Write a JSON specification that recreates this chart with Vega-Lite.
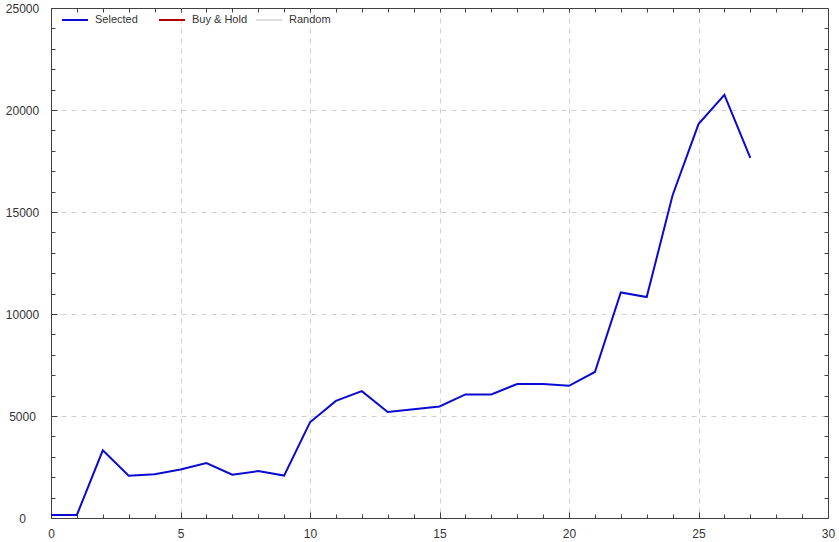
{
  "$schema": "https://vega.github.io/schema/vega-lite/v6.json",
  "autosize": "none",
  "width": 777,
  "height": 510,
  "padding": {"left": 51, "top": 8, "right": 11, "bottom": 24},
  "background": "white",
  "config": {
    "view": {"stroke": "#404040", "strokeWidth": 1},
    "font": "Liberation Sans",
    "axis": {
      "labelFont": "Liberation Sans",
      "labelFontSize": 12,
      "labelColor": "#333333",
      "domainColor": "#404040",
      "tickColor": "#404040",
      "title": null,
      "gridColor": "#d0d0d0",
      "gridDash": [5, 5],
      "gridWidth": 1
    }
  },
  "data": {
    "values": [
      {"t": 0, "v": 150, "series": "Selected"},
      {"t": 1, "v": 150, "series": "Selected"},
      {"t": 2, "v": 3320, "series": "Selected"},
      {"t": 3, "v": 2070, "series": "Selected"},
      {"t": 4, "v": 2150, "series": "Selected"},
      {"t": 5, "v": 2380, "series": "Selected"},
      {"t": 6, "v": 2690, "series": "Selected"},
      {"t": 7, "v": 2120, "series": "Selected"},
      {"t": 8, "v": 2300, "series": "Selected"},
      {"t": 9, "v": 2080, "series": "Selected"},
      {"t": 10, "v": 4690, "series": "Selected"},
      {"t": 11, "v": 5740, "series": "Selected"},
      {"t": 12, "v": 6220, "series": "Selected"},
      {"t": 13, "v": 5200, "series": "Selected"},
      {"t": 14, "v": 5330, "series": "Selected"},
      {"t": 15, "v": 5470, "series": "Selected"},
      {"t": 16, "v": 6060, "series": "Selected"},
      {"t": 17, "v": 6060, "series": "Selected"},
      {"t": 18, "v": 6570, "series": "Selected"},
      {"t": 19, "v": 6570, "series": "Selected"},
      {"t": 20, "v": 6480, "series": "Selected"},
      {"t": 21, "v": 7160, "series": "Selected"},
      {"t": 22, "v": 11055, "series": "Selected"},
      {"t": 23, "v": 10830, "series": "Selected"},
      {"t": 24, "v": 15820, "series": "Selected"},
      {"t": 25, "v": 19310, "series": "Selected"},
      {"t": 26, "v": 20740, "series": "Selected"},
      {"t": 27, "v": 17650, "series": "Selected"}
    ]
  },
  "resolve": {"axis": {"x": "independent", "y": "independent"}},
  "layer": [
    {
      "mark": {"type": "line", "strokeOpacity": 0},
      "encoding": {
        "x": {"field": "t", "type": "quantitative", "scale": {"domain": [0, 30], "nice": false},
          "axis": {"orient": "bottom", "values": [5, 10, 15, 20, 25], "labels": false, "ticks": false, "grid": true, "domain": false}},
        "y": {"field": "v", "type": "quantitative", "scale": {"domain": [0, 25000], "nice": false},
          "axis": {"orient": "left", "values": [5000, 10000, 15000, 20000], "labels": false, "ticks": false, "grid": true, "domain": false}}
      }
    },
    {
      "mark": {"type": "line", "strokeOpacity": 0},
      "encoding": {
        "x": {"field": "t", "type": "quantitative", "scale": {"domain": [0, 30], "nice": false},
          "axis": {"orient": "bottom", "values": [1,2,3,4,6,7,8,9,11,12,13,14,16,17,18,19,21,22,23,24,26,27,28,29], "labels": false, "grid": false, "domain": false, "tickSize": -4}},
        "y": {"field": "v", "type": "quantitative", "scale": {"domain": [0, 25000], "nice": false},
          "axis": {"orient": "left", "values": [1000,2000,3000,4000,6000,7000,8000,9000,11000,12000,13000,14000,16000,17000,18000,19000,21000,22000,23000,24000], "labels": false, "grid": false, "domain": false, "tickSize": -4}}
      }
    },
    {
      "mark": {"type": "line", "strokeOpacity": 0},
      "encoding": {
        "x": {"field": "t", "type": "quantitative", "scale": {"domain": [0, 30], "nice": false},
          "axis": {"orient": "top", "values": [1,2,3,4,5,6,7,8,9,10,11,12,13,14,15,16,17,18,19,20,21,22,23,24,25,26,27,28,29], "labels": false, "grid": false, "domain": false, "tickSize": -4}},
        "y": {"field": "v", "type": "quantitative", "scale": {"domain": [0, 25000], "nice": false},
          "axis": {"orient": "right", "values": [1000,2000,3000,4000,5000,6000,7000,8000,9000,10000,11000,12000,13000,14000,15000,16000,17000,18000,19000,20000,21000,22000,23000,24000], "labels": false, "grid": false, "domain": false, "tickSize": -4}}
      }
    },
    {
      "mark": {"type": "line", "strokeWidth": 2},
      "encoding": {
        "x": {"field": "t", "type": "quantitative", "scale": {"domain": [0, 30], "nice": false},
          "axis": {"orient": "bottom", "values": [0, 5, 10, 15, 20, 25, 30], "grid": false, "tickSize": -6, "labelPadding": 16, "labelBaseline": "top", "labelFlush": false, "format": "d"}},
        "y": {"field": "v", "type": "quantitative", "scale": {"domain": [0, 25000], "nice": false},
          "axis": {"orient": "left", "values": [0, 5000, 10000, 15000, 20000, 25000], "grid": false, "tickSize": -6, "labelAlign": "center", "labelBaseline": "middle", "labelPadding": 35, "labelFlush": false, "format": "d"}},
        "color": {"field": "series", "type": "nominal",
          "scale": {"domain": ["Selected", "Buy & Hold", "Random"], "range": ["#0a0ad2", "#b00000", "#dcdcdc"]},
          "legend": {"title": null, "orient": "none", "legendX": 10, "legendY": -2, "direction": "horizontal",
            "gridAlign": "all", "columnPadding": 4, "symbolType": "stroke", "symbolSize": 676, "symbolStrokeWidth": 2,
            "labelFont": "Liberation Sans", "labelFontSize": 11, "labelColor": "#333333", "labelOffset": 6, "padding": 0}}
      }
    }
  ]
}
